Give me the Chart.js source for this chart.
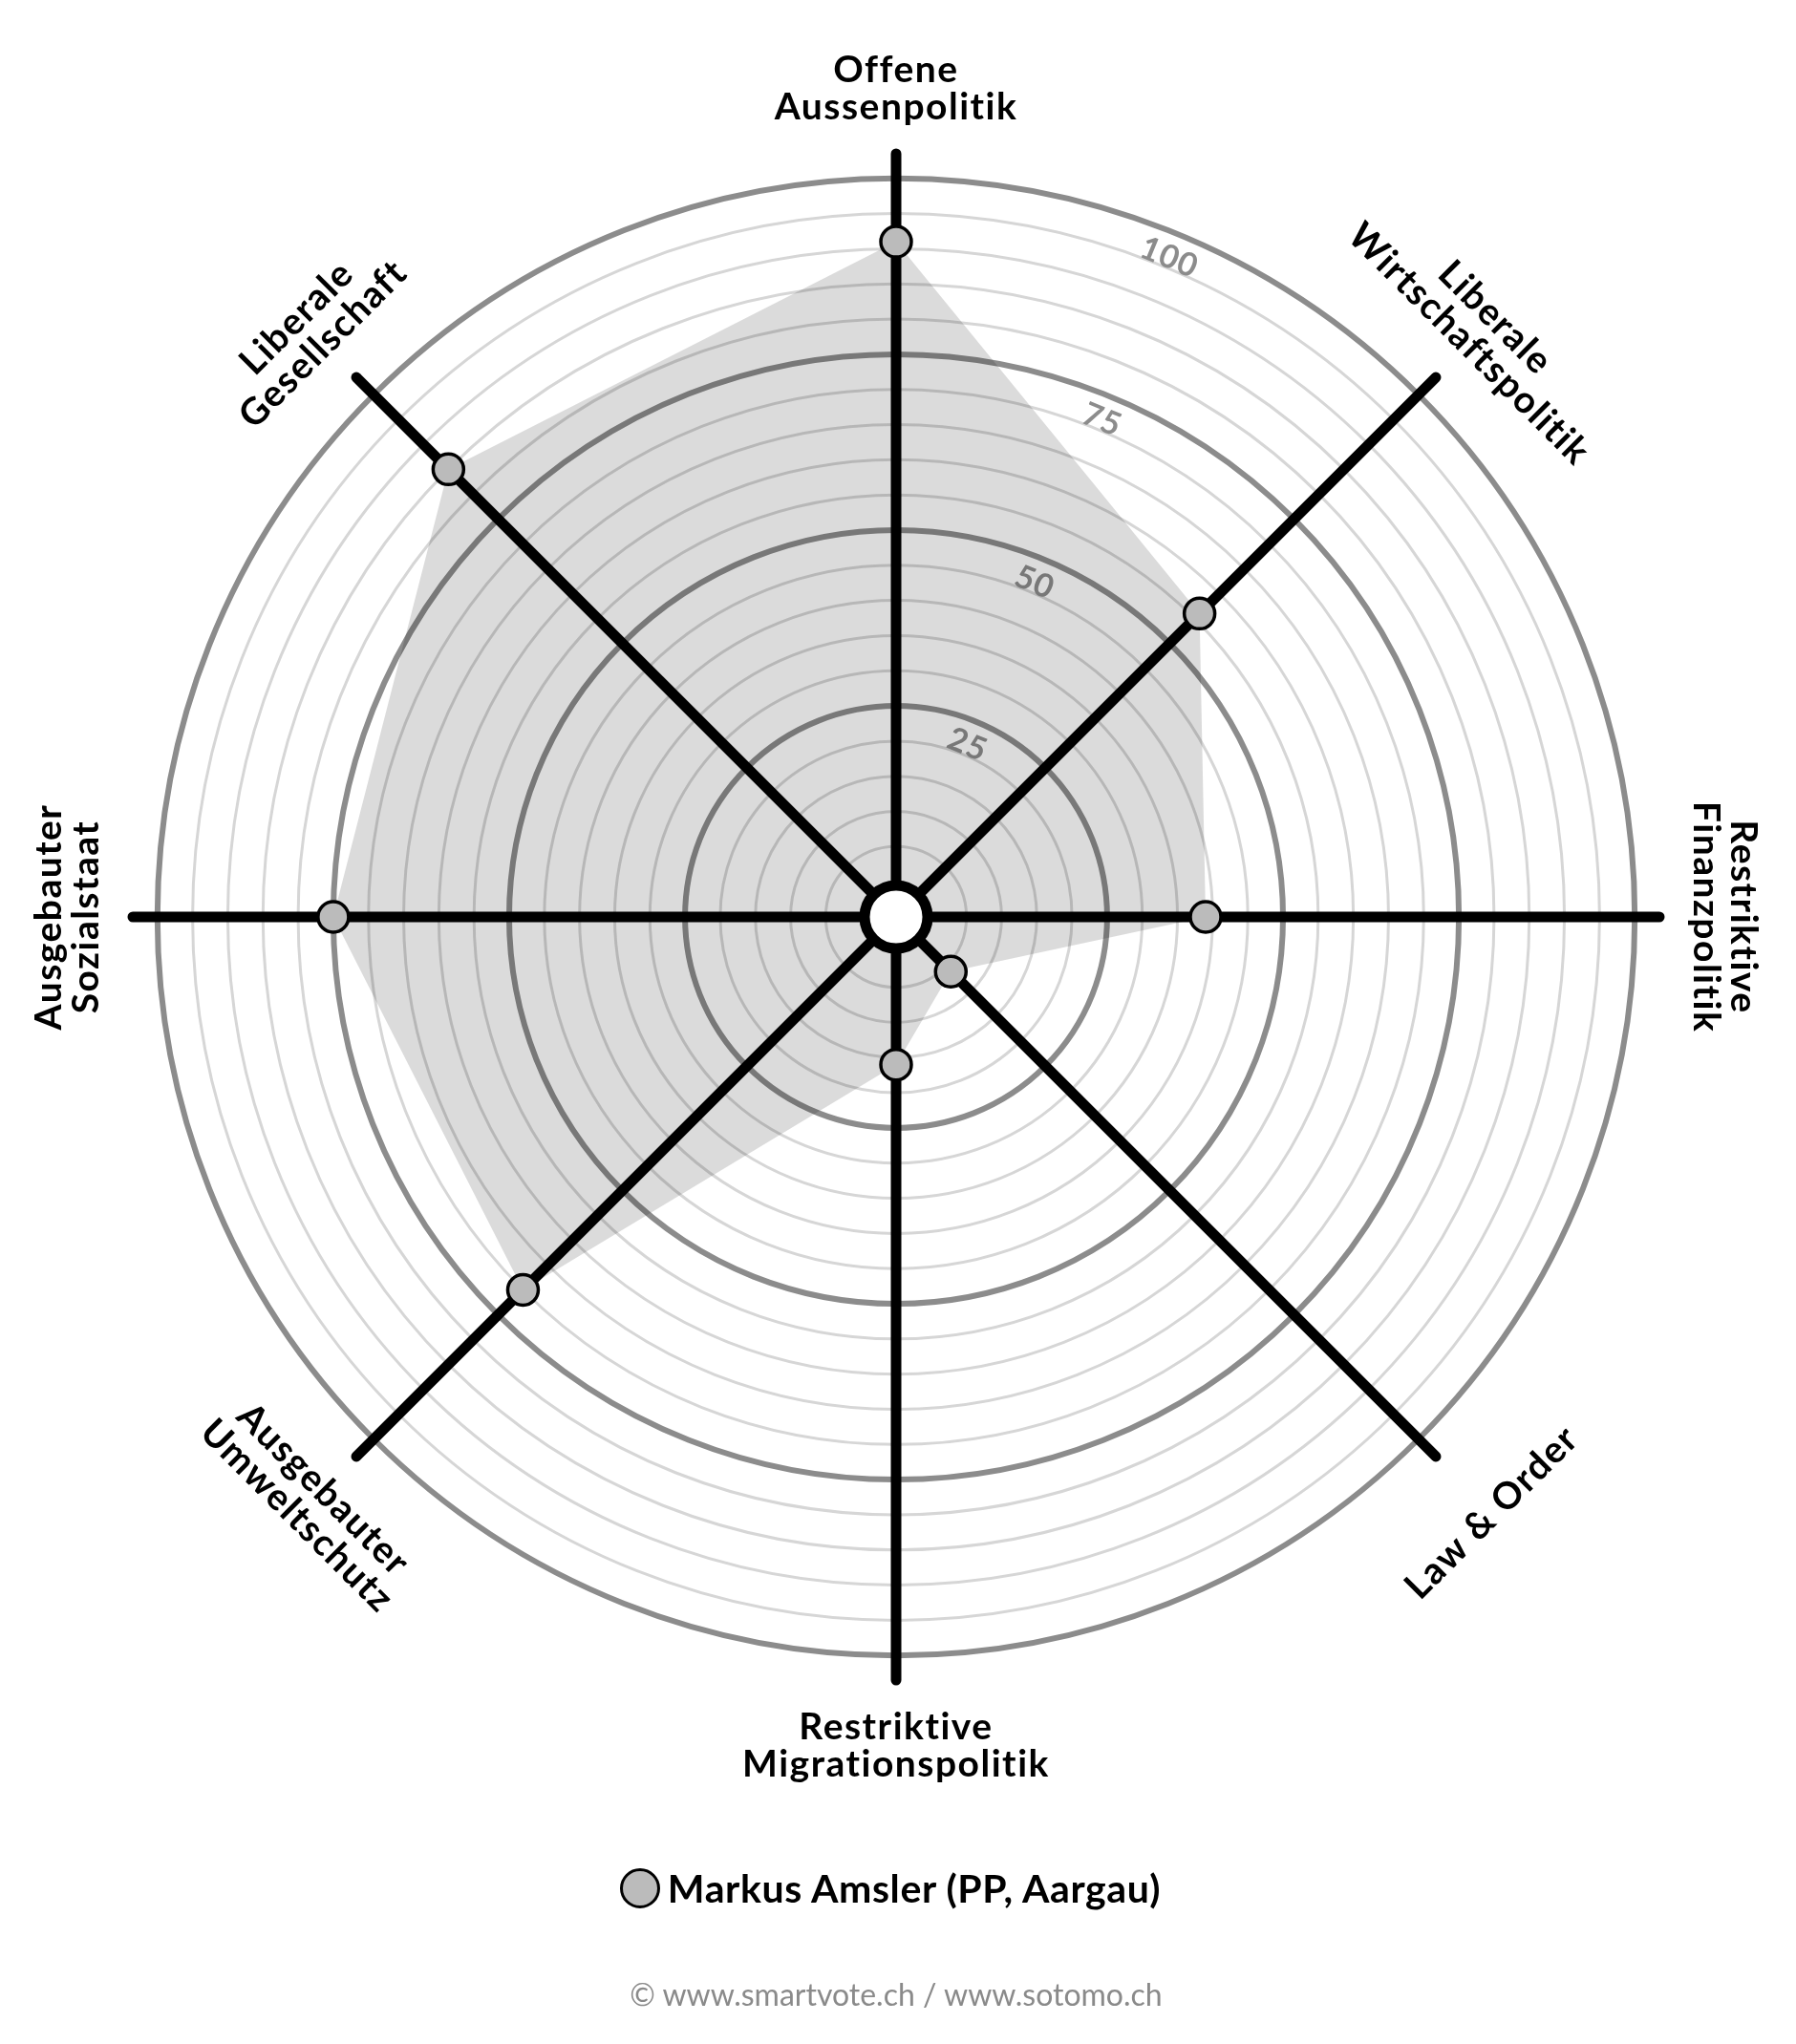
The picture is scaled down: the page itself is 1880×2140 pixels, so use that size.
<!DOCTYPE html>
<html>
<head>
<meta charset="utf-8">
<script src="https://cdn.jsdelivr.net/npm/chart.js@4.4.1/dist/chart.umd.min.js"></script>
<style>
  html, body { margin: 0; padding: 0; background: #fff; }
  #wrap { position: relative; width: 1880px; height: 2140px; }
  #spider { position: absolute; left: 0; top: 0; }
  .legend {
    position: absolute; left: 0; width: 1864px; top: 1952px;
    display: flex; justify-content: center; align-items: center;
    font-family: Lato, "Open Sans", sans-serif; font-weight: 700; font-size: 41px;
    letter-spacing: 0.6px; color: #000;
  }
  .legend .dot {
    width: 36px; height: 36px; border-radius: 50%;
    background: #bbbbbb; border: 3.5px solid #000; margin-right: 8px;
  }
  .footer {
    position: absolute; left: 0; width: 1876px; top: 2068px; text-align: center;
    font-family: Lato, "Open Sans", sans-serif; font-size: 32px; color: #8a8a8a;
  }
</style>
</head>
<body>
<div id="wrap">
  <canvas id="spider" width="1880" height="2140"></canvas>
  <div class="legend"><span class="dot"></span><span id="legend-name"></span></div>
  <div class="footer">© www.smartvote.ch / www.sotomo.ch</div>
</div>
<script>
// ---- data ----
const axisLabels = [
  ['Offene', 'Aussenpolitik'],
  ['Liberale', 'Wirtschaftspolitik'],
  ['Restriktive', 'Finanzpolitik'],
  ['Law & Order'],
  ['Restriktive', 'Migrationspolitik'],
  ['Ausgebauter', 'Umweltschutz'],
  ['Ausgebauter', 'Sozialstaat'],
  ['Liberale', 'Gesellschaft']
];
const candidateName = 'Markus Amsler (PP, Aargau)';
const candidateValues = [91, 56, 39, 6, 16, 70, 75, 85];
const tickLabels = [25, 50, 75, 100];

// ---- style ----
const LABEL_FONT = '700 39px Lato, "Open Sans", sans-serif';
const TICK_FONT = '700 34px Lato, "Open Sans", sans-serif';
const THIN_RING = '#d6d6d6';
const THICK_RING = '#8c8c8c';

document.getElementById('legend-name').textContent = candidateName;

// round ends on the axis spokes
const lineCapPlugin = {
  id: 'lineCap',
  beforeDraw(chart) { chart.ctx.lineCap = 'round'; },
  afterDraw(chart) { chart.ctx.lineCap = 'butt'; }
};

// tilted 25/50/75/100 labels between the first two spokes
const tickLabelPlugin = {
  id: 'tickLabels',
  beforeDatasetsDraw(chart) {
    const scale = chart.scales.r;
    const ctx = chart.ctx;
    ctx.save();
    ctx.font = TICK_FONT;
    ctx.letterSpacing = '1px';
    ctx.fillStyle = THICK_RING;
    ctx.textAlign = 'center';
    ctx.textBaseline = 'middle';
    tickLabels.forEach(v => {
      const d = scale.getDistanceFromCenterForValue(v) - 26;
      const p = scale.getPointPosition(0, d, Math.PI / 8);
      ctx.save();
      ctx.translate(p.x, p.y);
      ctx.rotate(Math.PI / 8);
      ctx.fillText(String(v), 0, 0);
      ctx.restore();
    });
    ctx.restore();
  },
  afterDatasetsDraw(chart) {
    // white hub in the middle
    const scale = chart.scales.r;
    const ctx = chart.ctx;
    ctx.save();
    ctx.beginPath();
    ctx.arc(scale.xCenter, scale.yCenter, 33, 0, Math.PI * 2);
    ctx.fillStyle = '#fff';
    ctx.fill();
    ctx.lineWidth = 11;
    ctx.strokeStyle = '#000';
    ctx.stroke();
    ctx.restore();
  }
};

// axis titles, turned to follow the circle
const axisLabelPlugin = {
  id: 'axisLabels',
  afterDraw(chart) {
    const scale = chart.scales.r;
    const ctx = chart.ctx;
    const innerR = 848, lineH = 39, singleR = 882;
    ctx.save();
    ctx.font = LABEL_FONT;
    ctx.letterSpacing = '1.5px';
    ctx.fillStyle = '#000';
    ctx.textAlign = 'center';
    ctx.textBaseline = 'middle';
    axisLabels.forEach((lines, i) => {
      let rot = scale.getIndexAngle(i);
      if (rot > Math.PI) rot -= Math.PI * 2;
      const flipped = Math.abs(rot) > Math.PI / 2 + 1e-6;
      if (flipped) rot += rot > 0 ? -Math.PI : Math.PI;
      lines.forEach((line, k) => {
        let dist;
        if (lines.length === 1) dist = singleR;
        else dist = flipped ? innerR + k * lineH : innerR + (lines.length - 1 - k) * lineH;
        const p = scale.getPointPosition(i, dist);
        ctx.save();
        ctx.translate(p.x, p.y);
        ctx.rotate(rot);
        ctx.fillText(line, 0, 0);
        ctx.restore();
      });
    });
    ctx.restore();
  }
};

const ringColor = ctx => {
  const v = ctx.tick.value;
  if (v <= 0 || v > 100 || v % 5 !== 0) return 'rgba(0,0,0,0)';
  return v % 25 === 0 ? THICK_RING : THIN_RING;
};
const ringWidth = ctx => {
  const v = ctx.tick.value;
  if (v <= 0 || v > 100 || v % 5 !== 0) return 0;
  return v % 25 === 0 ? 6 : 3;
};

new Chart(document.getElementById('spider'), {
  type: 'radar',
  data: {
    labels: axisLabels.map(l => l.join(' ')),
    datasets: [{
      label: candidateName,
      data: candidateValues,
      backgroundColor: 'rgba(0,0,0,0.14)',
      borderWidth: 0,
      fill: true,
      pointRadius: 16,
      pointBorderWidth: 3.5,
      pointBackgroundColor: '#bbbbbb',
      pointBorderColor: '#000'
    }]
  },
  options: {
    responsive: false,
    animation: false,
    layout: { padding: { left: 139, right: 143, top: 161, bottom: 381 } },
    plugins: {
      legend: { display: false },
      tooltip: { enabled: false }
    },
    scales: {
      r: {
        min: -5,
        max: 103.5,
        ticks: { display: false, stepSize: 5 },
        pointLabels: { display: false },
        grid: { circular: true, color: ringColor, lineWidth: ringWidth },
        angleLines: { color: '#000', lineWidth: 11 }
      }
    }
  },
  plugins: [lineCapPlugin, tickLabelPlugin, axisLabelPlugin]
});
</script>
</body>
</html>
